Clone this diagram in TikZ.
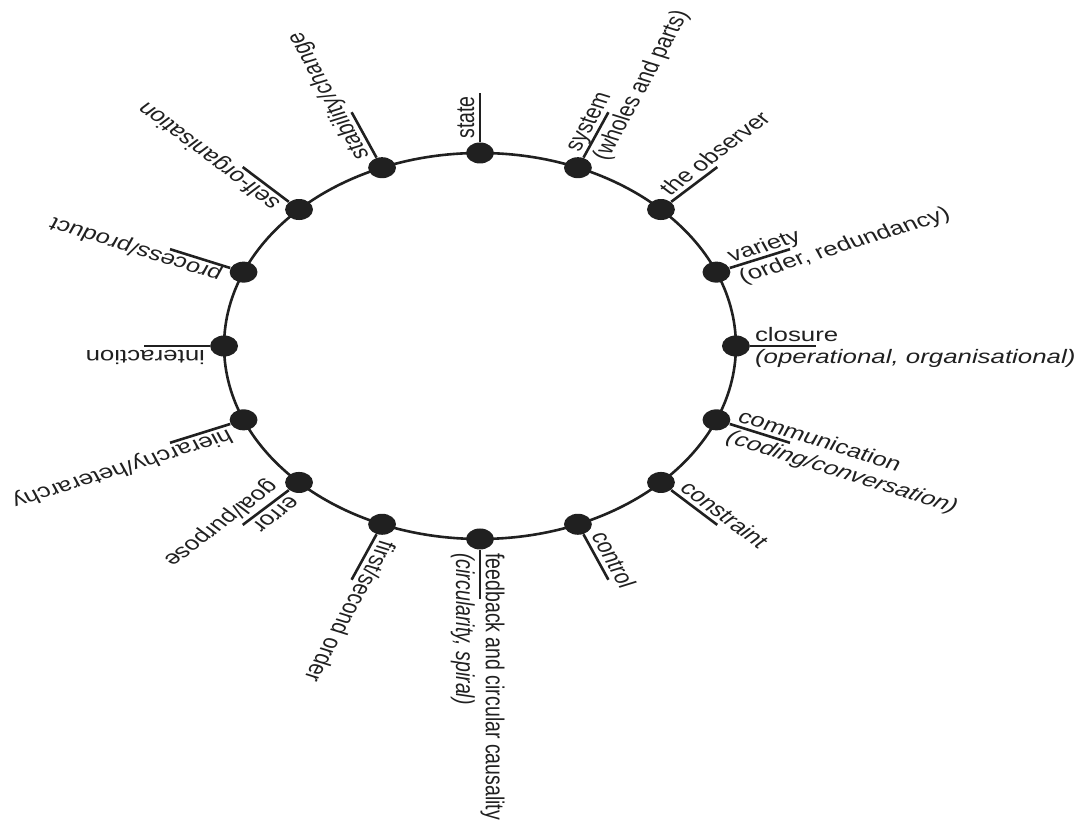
\documentclass[tikz,border=0pt]{standalone}
\usepackage{fontspec}
\setmainfont{Liberation Sans}
\usepackage{tikz}
\usetikzlibrary{calc}
\definecolor{ink}{RGB}{32, 32, 32}
% one concept on the ring: dot, spoke and first line of its label
\newcommand{\ringtopic}[3]{%
  \node[dot] (#1) at (#2:193) {};
  \coordinate (#1-end) at (#2:253);
  \draw[spoke] (#1) -- (#1-end);
  \node[lbl, rotate=#2] (#1-top) at ($(#2:207)+(#2+90:4.5)$) {#3};
}
% second line, on the other side of the spoke
\newcommand{\ringnote}[3]{%
  \node[lbl, rotate=#2] (#1-sub) at ($(#2:207)+(#2-90:18)$) {#3};
}
\begin{document}
\begin{tikzpicture}[
  x=0.5pt, y=0.5pt, xscale=1.326,
  every node/.style={transform shape},
  ring/.style={draw=ink, line width=1.3pt},
  dot/.style={circle, fill=ink, inner sep=0pt, minimum size=10.5pt},
  spoke/.style={draw=ink, line width=1.3pt},
  lbl/.style={text=ink, font=\fontsize{9.75}{11}\selectfont, inner sep=0pt, anchor=base west}
]
\useasboundingbox (-362,-477) rectangle (454,346);

% The ring
\draw[ring] (0,0) circle[radius=193];

% Right half
\ringtopic{state}{90}{state}
\ringtopic{system}{67.5}{system}
\ringnote{system}{67.5}{(wholes and parts)}
\ringtopic{observer}{45}{the observer}
\ringtopic{variety}{22.5}{variety}
\ringnote{variety}{22.5}{(order, redundancy)}
\ringtopic{closure}{0}{closure}
\ringnote{closure}{0}{\textit{(operational, organisational)}}
\ringtopic{communication}{-22.5}{communication}
\ringnote{communication}{-22.5}{\textit{(coding/conversation)}}
\ringtopic{constraint}{-45}{constraint}
\ringtopic{control}{-67.5}{control}

% Left half
\ringtopic{feedback}{-90}{feedback and circular causality}
\ringnote{feedback}{-90}{\textit{(circularity, spiral)}}
\ringtopic{order}{-112.5}{first/second order}
\ringtopic{error}{-135}{error}
\ringnote{error}{-135}{goal/purpose}
\ringtopic{hierarchy}{-157.5}{hierarchy/heterarchy}
\ringtopic{interaction}{180}{interaction}
\ringtopic{process}{157.5}{process/product}
\ringtopic{selforg}{135}{self-organisation}
\ringtopic{stability}{112.5}{stability/change}

\end{tikzpicture}
\end{document}
